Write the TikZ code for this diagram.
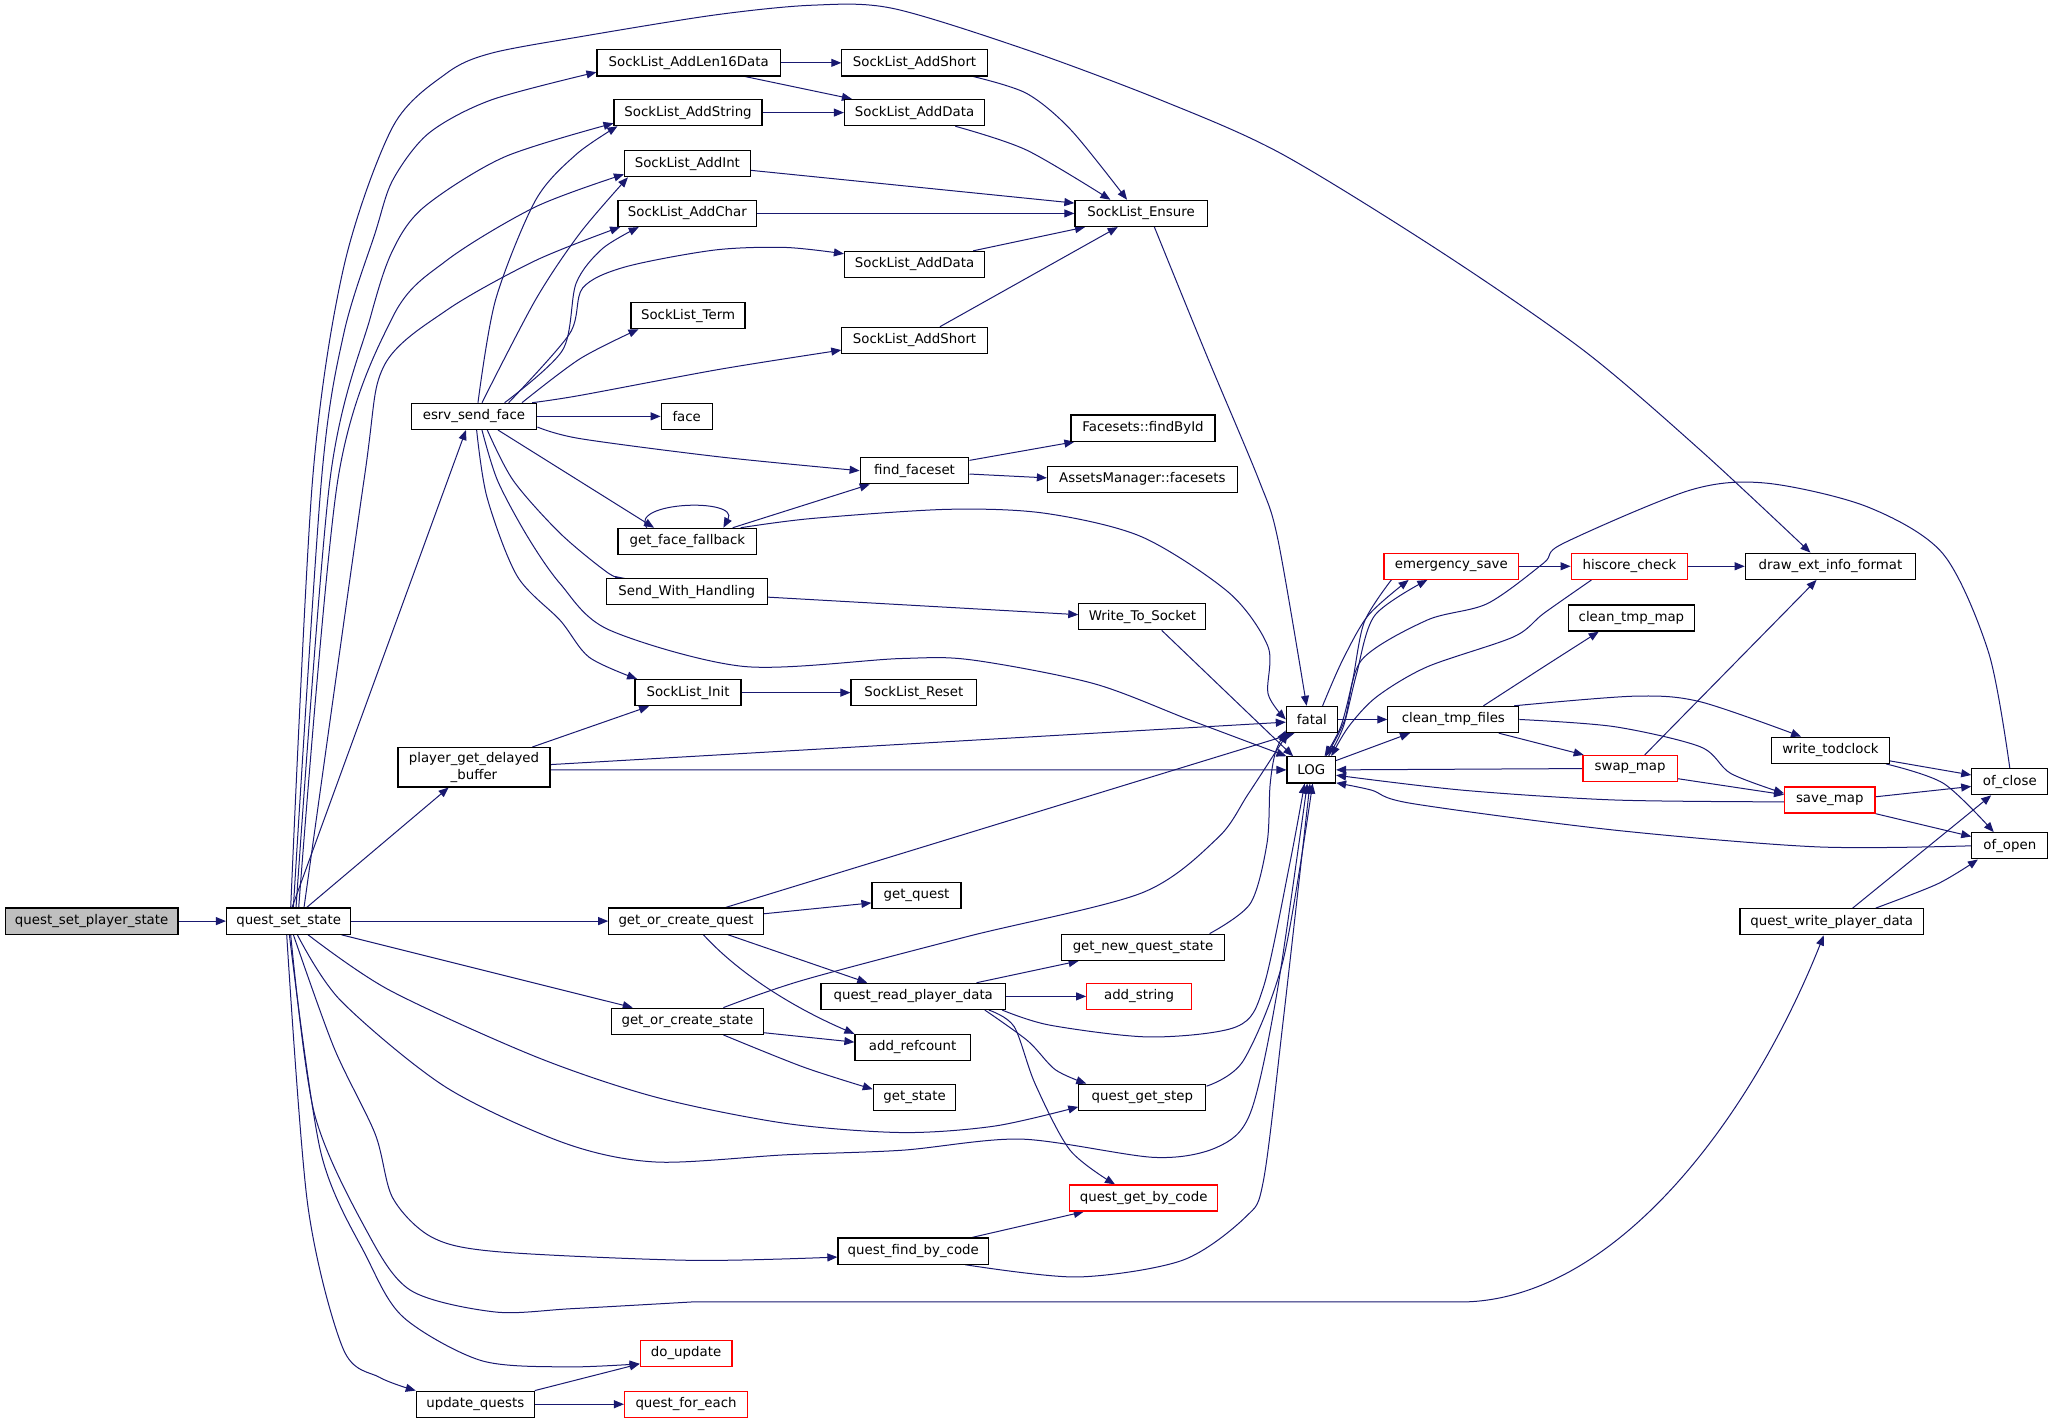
\documentclass[tikz,border=0pt]{standalone}
\usepackage{fontspec}
\setmainfont{DejaVu Sans}
\usetikzlibrary{arrows.meta,backgrounds}
\definecolor{edgeblue}{HTML}{191970}
\definecolor{rootgray}{HTML}{BFBFBF}
\definecolor{nodered}{HTML}{FF0000}
\tikzset{
  nd/.style={draw=black, line width=0.9pt, fill=white, inner sep=0pt, minimum height=19.6pt, font=\fontsize{10}{13}\selectfont, text=black},
  rn/.style={nd, draw=nodered},
  wd/.style={minimum width=#1*0.982pt},
  e/.style={draw=edgeblue, line width=0.75pt, -{Triangle[length=7.5pt,width=6pt]}}
}
\begin{document}
\begin{tikzpicture}[x=0.982pt,y=-0.982pt]
\useasboundingbox (0,0) rectangle (1568,1086);
% nodes
\node[nd,fill=rootgray,wd=132] (qsps) at (70,703.5) {quest\_set\_player\_state};
\node[nd,wd=95] (qss) at (220.5,703.5) {quest\_set\_state};
\node[nd,wd=140] (addlen) at (526,48) {SockList\_AddLen16Data};
\node[nd,wd=111] (addshortA) at (698.5,48) {SockList\_AddShort};
\node[nd,wd=113] (addstr) at (525.5,86) {SockList\_AddString};
\node[nd,wd=107] (adddataA) at (698.5,86) {SockList\_AddData};
\node[nd,wd=96] (addint) at (525,125) {SockList\_AddInt};
\node[nd,wd=106] (addchar) at (525,163) {SockList\_AddChar};
\node[nd,wd=101] (ensure) at (871.5,163) {SockList\_Ensure};
\node[nd,wd=107] (adddataB) at (698.5,202) {SockList\_AddData};
\node[nd,wd=87] (term) at (525.5,241) {SockList\_Term};
\node[nd,wd=111] (addshortB) at (698.5,260) {SockList\_AddShort};
\node[nd,wd=96] (esf) at (362,318) {esrv\_send\_face};
\node[nd,wd=39] (face) at (524.5,318) {face};
\node[nd,wd=110] (findbyid) at (873,327) {Facesets::findById};
\node[nd,wd=83] (ffs) at (698.5,359.5) {find\_faceset};
\node[nd,wd=145] (amf) at (872.5,366) {AssetsManager::facesets};
\node[nd,wd=106] (gff) at (525,413.5) {get\_face\_fallback};
\node[nd,wd=123] (swh) at (524.5,452) {Send\_With\_Handling};
\node[nd,wd=97] (wts) at (872.5,471) {Write\_To\_Socket};
\node[nd,wd=81] (init) at (525.5,529) {SockList\_Init};
\node[nd,wd=96] (reset) at (698,529) {SockList\_Reset};
\node[nd,wd=116,minimum height=29.5pt,align=center] (pgdb) at (362,586) {player\_get\_delayed\\\_buffer};
\node[nd,wd=39] (fatal) at (1002,549.5) {fatal};
\node[nd,wd=37] (log) at (1001.5,588) {LOG};
\node[nd,wd=100] (ctf) at (1110,549.5) {clean\_tmp\_files};
\node[rn,wd=103] (esave) at (1108.5,432.5) {emergency\_save};
\node[rn,wd=89] (hisc) at (1244.5,432.5) {hiscore\_check};
\node[nd,wd=130] (deif) at (1398,432.5) {draw\_ext\_info\_format};
\node[nd,wd=96] (ctm) at (1246,472) {clean\_tmp\_map};
\node[nd,wd=90] (wtod) at (1398,573) {write\_todclock};
\node[rn,wd=72] (swap) at (1245,587) {swap\_map};
\node[rn,wd=69] (save) at (1397.5,611) {save\_map};
\node[nd,wd=58] (ofclose) at (1535,597) {of\_close};
\node[nd,wd=58] (ofopen) at (1535,646) {of\_open};
\node[nd,wd=140] (qwpd) at (1399,704) {quest\_write\_player\_data};
\node[nd,wd=118] (gocq) at (524,703.5) {get\_or\_create\_quest};
\node[nd,wd=68] (getq) at (700,684) {get\_quest};
\node[nd,wd=124] (gnqs) at (873,723.5) {get\_new\_quest\_state};
\node[nd,wd=141] (qrpd) at (697.5,761) {quest\_read\_player\_data};
\node[rn,wd=80] (addstring) at (870,761) {add\_string};
\node[nd,wd=116] (gocs) at (525,780) {get\_or\_create\_state};
\node[nd,wd=88] (addref) at (697,800) {add\_refcount};
\node[nd,wd=63] (getstate) at (698.5,838) {get\_state};
\node[nd,wd=97] (qgs) at (872.5,838) {quest\_get\_step};
\node[rn,wd=113] (qgbc) at (873.5,915) {quest\_get\_by\_code};
\node[nd,wd=115] (qfbc) at (697.5,955.5) {quest\_find\_by\_code};
\node[rn,wd=70] (doupd) at (524,1033.5) {do\_update};
\node[nd,wd=90] (updq) at (363,1072.5) {update\_quests};
\node[rn,wd=94] (qfe) at (524,1072.5) {quest\_for\_each};
% edges
\begin{pgfonlayer}{background}
\draw[e] (qsps.east) -- (qss.west);
\draw[e] plot[smooth] coordinates {([xshift=1.5pt]qss.north) (238.7,366.7) (262.6,203.7) (300,96.8) (341,56) (375,40.7) (443.4,28) (545.5,11.5) (620,4) (681.8,6.4) (784,38) (886.5,76.4) (977.9,117) (1100,192) (1210,268) (1300,345) ([xshift=-15pt]deif.north)};
\draw[e] plot[smooth] coordinates {([xshift=3.5pt]qss.north) (245.5,366.7) (262.6,254.6) (286.5,178) (300,137.5) (327.4,101.8) (375,76.4) ([yshift=-7pt]addlen.west)};
\draw[e] plot[smooth] coordinates {([xshift=5.5pt]qss.north) (252,366.7) (283,242) (300,191) (324,158) (385,120) ([yshift=-8pt]addstr.west)};
\draw[e] plot[smooth] coordinates {([xshift=7.5pt]qss.north) (258,366.7) (300,242) (341,199) (409,158) ([yshift=-8pt]addint.west)};
\draw[e] plot[smooth] coordinates {([xshift=11.5pt]qss.north) (278,366.7) (293,280) (341,237) (409,199) ([xshift=2pt]addchar.south west)};
\draw[e] ([xshift=2.5pt]qss.north) -- ([xshift=-6pt]esf.south);
\draw[e] ([xshift=13.5pt]qss.north) -- ([xshift=-19pt]pgdb.south);
\draw[e] (qss.east) -- (gocq.west);
\draw[e] ([xshift=39.5pt]qss.south) -- ([xshift=-41pt]gocs.north);
\draw[e] plot[smooth] coordinates {([xshift=14.5pt]qss.south) (297,756) (409,807) (501,838) (600,858) (689,865) (760,860) ([yshift=3pt]qgs.south west)};
\draw[e] plot[smooth] coordinates {([xshift=6.5pt]qss.south) (260,764) (340,830) (431,873) (501,887.5) (600,882) (689,878.5) (780,870) (882,884) (930,876) (955,850) (975,760) ([xshift=-3pt]log.south)};
\draw[e] plot[smooth] coordinates {([xshift=3.5pt]qss.south) (255,800) (286.5,866) (300,915) (330,945) (380,956) (528,962.6) ([yshift=-4.5pt]qfbc.west)};
\draw[e] plot[smooth] coordinates {([xshift=1.5pt]qss.south) (240,850) (280,940) (313.6,985.5) (377.8,1002) (436.8,999.5) (528,994.4)} -- (1115,994.4) .. controls (1230,994.4) and (1335,860) .. ([xshift=-6pt]qwpd.south);
\draw[e] plot[smooth] coordinates {([xshift=0.5pt]qss.south) (245,880) (280,960) (308,1006) (367,1039) (431.5,1044) ([yshift=-8pt]doupd.west)};
\draw[e] plot[smooth] coordinates {([xshift=-1.5pt]qss.south) (235,920) (262,1030) (290,1052) (updq.north west)};
% esf
\draw[e] plot[smooth] coordinates {([xshift=3pt]esf.north) (378.5,229) (409,153) (440,118) ([xshift=3pt]addstr.south west)};
\draw[e] plot[smooth] coordinates {([xshift=6pt]esf.north) (409,229) (443,178) ([xshift=3pt]addint.south west)};
\draw[e] plot[smooth] coordinates {([xshift=23pt]esf.north) (429.7,267.4) (440,216.4) (460,190) ([xshift=16pt]addchar.south west)};
\draw[e] plot[smooth] coordinates {([xshift=26pt]esf.north) (435,255) (445,220) (477,204) (545.5,191) (600,189) ([yshift=8pt]adddataB.west)};
\draw[e] plot[smooth] coordinates {([xshift=36pt]esf.north) (443,274) ([xshift=6pt]term.south west)};
\draw[e] plot[smooth] coordinates {([xshift=-4pt]esf.north east) (443,302) (550,282) ([yshift=3pt]addshortB.south west)};
\draw[e] (esf.east) -- (face.west);
\draw[e] plot[smooth] coordinates {([yshift=-8pt]esf.east) (443,335) (550,349) (ffs.west)};
\draw[e] ([xshift=18pt]esf.south) -- ([xshift=-25pt]gff.north);
\draw[e] plot[smooth] coordinates {([xshift=10pt]esf.south) (392,367) (428,407.5) (465,438) ([xshift=15pt]swh.north west)};
\draw[e] plot[smooth] coordinates {([xshift=2pt]esf.south) (372,380) (395,440) (428,474) (450,502) ([xshift=2pt]init.north west)};
\draw[e] plot[smooth] coordinates {([xshift=6pt]esf.south) (380,367) (403,410) (428,446) (465,481) (568,509) (687,503) (742,504) (835,522) (909,550) (log.north west)};
% faceset
\draw[e] ([yshift=-2.5pt]ffs.north east) -- ([xshift=3pt]findbyid.south west);
\draw[e] ([yshift=-2.5pt]ffs.east) -- ([yshift=1pt]amf.west);
\draw[e] ([xshift=34pt]gff.north) -- ([xshift=7.6pt]ffs.south west);
\draw[e] ([xshift=-30.5pt]gff.north) .. controls (480,383) and (565,380) .. ([xshift=27pt]gff.north);
\draw[e] plot[smooth] coordinates {([xshift=40pt]gff.north) (620,396) (724,389) (798,392) (872,410) (939,453) (968.5,494) (968.5,530) (fatal.west)};
\draw[e] ([yshift=-4pt]swh.east) -- ([yshift=1.5pt]wts.west);
\draw[e] ([xshift=14.5pt]wts.south) -- ([xshift=5pt]log.north west);
\draw[e] (init.east) -- (reset.west);
\draw[e] ([xshift=43.8pt]pgdb.north) -- ([xshift=11pt]init.south west);
\draw[e] ([yshift=2pt]pgdb.east) -- ([yshift=-2pt]fatal.west);
\draw[e] ([yshift=-2pt]pgdb.east) -- (log.west);
% socklist
\draw[e] (addlen.east) -- (addshortA.west);
\draw[e] ([xshift=-27pt]addlen.south east) -- ([xshift=6pt]adddataA.north west);
\draw[e] (addstr.east) -- (adddataA.west);
\draw[e] plot[smooth] coordinates {([xshift=-11pt]addshortA.south east) (784,71.3) (818,99.3) ([xshift=-10.5pt]ensure.north)};
\draw[e] plot[smooth] coordinates {([xshift=-22.4pt]adddataA.south east) (784,114.6) ([xshift=-23pt]ensure.north)};
\draw[e] ([yshift=-5pt]addint.east) -- ([yshift=-2.5pt]ensure.north west);
\draw[e] (addchar.east) -- (ensure.west);
\draw[e] ([xshift=-9pt]adddataB.north east) -- ([xshift=8pt]ensure.south west);
\draw[e] ([xshift=19pt]addshortB.north) -- ([xshift=-17.5pt]ensure.south);
\draw[e] plot[smooth] coordinates {([xshift=10pt]ensure.south) (921,270) (961.5,366.7) (976,412) ([xshift=-4pt]fatal.north)};
% fatal / LOG
\draw[e] (fatal.east) -- (ctf.west);
\draw[e] plot[smooth] coordinates {([xshift=8pt]fatal.north) (1025,505) (1045,470) ([xshift=19pt]esave.south west)};
\draw[e] plot[smooth] coordinates {([xshift=6pt]esave.south west) (1042,475) (1033,520) (1024,555) ([xshift=10pt]log.north)};
\draw[e] plot[smooth] coordinates {([xshift=13pt]log.north) (1026,555) (1036,515) (1050,470) ([xshift=33pt]esave.south west)};
\draw[e] plot[smooth] coordinates {([xshift=15.7pt]hisc.south west) (1179,468.5) (1156,486.4) (1090,509.3) (1051.4,532.2) (1030,555) ([xshift=15pt]log.north)};
\draw[e] plot[smooth] coordinates {(ofclose.north) (1519,499) (1484,423) (1426,387) (1349,369) (1291,374.3) (1194,415) (1179,430) (1136,461) (1090,473.6) (1040,504) (1027,550) ([xshift=11pt]log.north)};
\draw[e] ([yshift=7pt]log.east) -- ([xshift=17pt]ctf.south west);
\draw[e] plot[smooth] coordinates {([xshift=22.6pt]ctf.north) (1179,509.3) ([xshift=-24.5pt]ctm.south)};
\draw[e] plot[smooth] coordinates {([xshift=-4pt]ctf.north east) (1248.5,531.7) (1298.7,536) ([xshift=-22pt]wtod.north)};
\draw[e] ([xshift=34pt]ctf.south) -- ([xshift=1pt]swap.north west);
\draw[e] plot[smooth] coordinates {(ctf.east) (1233,555) (1298.7,570.4) (1322,590.8) ([yshift=5pt]save.west)};
\draw[e] (swap.west) -- (log.east);
\draw[e] ([xshift=11pt]swap.north) -- ([xshift=-10.4pt]deif.south);
\draw[e] ([yshift=-7.6pt]swap.east) -- ([yshift=4pt]save.west);
\draw[e] plot[smooth] coordinates {([yshift=-1.4pt]save.west) (1233,611) (1117,603.5) ([yshift=-4pt]log.east)};
\draw[e] ([yshift=2.4pt]save.east) -- ([yshift=-3.6pt]ofclose.west);
\draw[e] (save.south east) -- ([yshift=7pt]ofopen.west);
\draw[e] ([yshift=-8pt]wtod.east) -- ([yshift=5pt]ofclose.west);
\draw[e] plot[smooth] coordinates {([xshift=-3pt]wtod.south east) (1484.5,598.4) ([xshift=-12pt]ofopen.north)};
\draw[e] plot[smooth] coordinates {(ofopen.west) (1387.6,646.8) (1233,634) (1078.5,613.7) (1047.6,603.5) ([yshift=0.5pt]log.south east)};
\draw[e] ([xshift=15.7pt]qwpd.north) -- ([xshift=15pt]ofclose.south west);
\draw[e] plot[smooth] coordinates {([xshift=33pt]qwpd.north) (1480,675) ([xshift=5pt]ofopen.south west)};
\draw[e] (esave.east) -- (hisc.west);
\draw[e] (hisc.east) -- (deif.west);
% quests
\draw[e] ([yshift=5.5pt]gocq.east) -- ([yshift=-5.5pt]getq.west);
\draw[e] ([xshift=29.7pt]gocq.north) -- ([xshift=6.5pt]fatal.south west);
\draw[e] ([xshift=31.5pt]gocq.south) -- ([xshift=-34.5pt]qrpd.north);
\draw[e] ([xshift=13pt]gocq.south) .. controls (575,755) and (630,780) .. (addref.north west);
\draw[e] ([yshift=-8.6pt]gocs.east) -- ([yshift=4pt]addref.west);
\draw[e] plot[smooth] coordinates {([xshift=27pt]gocs.south) (613.7,815) ([yshift=6pt]getstate.west)};
\draw[e] plot[smooth] coordinates {([xshift=27pt]gocs.north) (613,748.7) (740,715) (872,682) (930,640) (953.6,606) ([xshift=1.5pt]fatal.south west)};
\draw[e] plot[smooth] coordinates {([xshift=-11.4pt]gnqs.north east) (955,690) (967.7,644) (970,600) (974,575) ([yshift=2pt]fatal.south west)};
\draw[e] ([xshift=47.5pt]qrpd.north) -- ([xshift=13pt]gnqs.south west);
\draw[e] (qrpd.east) -- (addstring.west);
\draw[e] plot[smooth] coordinates {([xshift=-3pt]qrpd.south east) (802,783) (878.5,792) (944.8,784) (965,753.8) (985,660) ([xshift=-5pt]log.south)};
\draw[e] plot[smooth] coordinates {([xshift=-16pt]qrpd.south east) (785,795) (806,817) ([xshift=6pt]qgs.north west)};
\draw[e] plot[smooth] coordinates {([xshift=-13pt]qrpd.south east) (774.5,784) (790.5,827.6) (817.3,878.5) ([xshift=-21.5pt]qgbc.north)};
\draw[e] plot[smooth] coordinates {([yshift=-2pt]qgs.north east) (949.8,809.8) (980,733.4) ([xshift=1pt]log.south)};
\draw[e] ([xshift=-12.7pt]qfbc.north east) -- ([xshift=11pt]qgbc.south west);
\draw[e] plot[smooth] coordinates {([xshift=-18pt]qfbc.south east) (822.7,975.3) (903,962.6) (951.3,929.5) (965,901.5) (980,780) ([xshift=-1pt]log.south)};
\draw[e] (updq.north east) -- ([yshift=-8pt]doupd.west);
\draw[e] (updq.east) -- (qfe.west);
\end{pgfonlayer}
\end{tikzpicture}
\end{document}
